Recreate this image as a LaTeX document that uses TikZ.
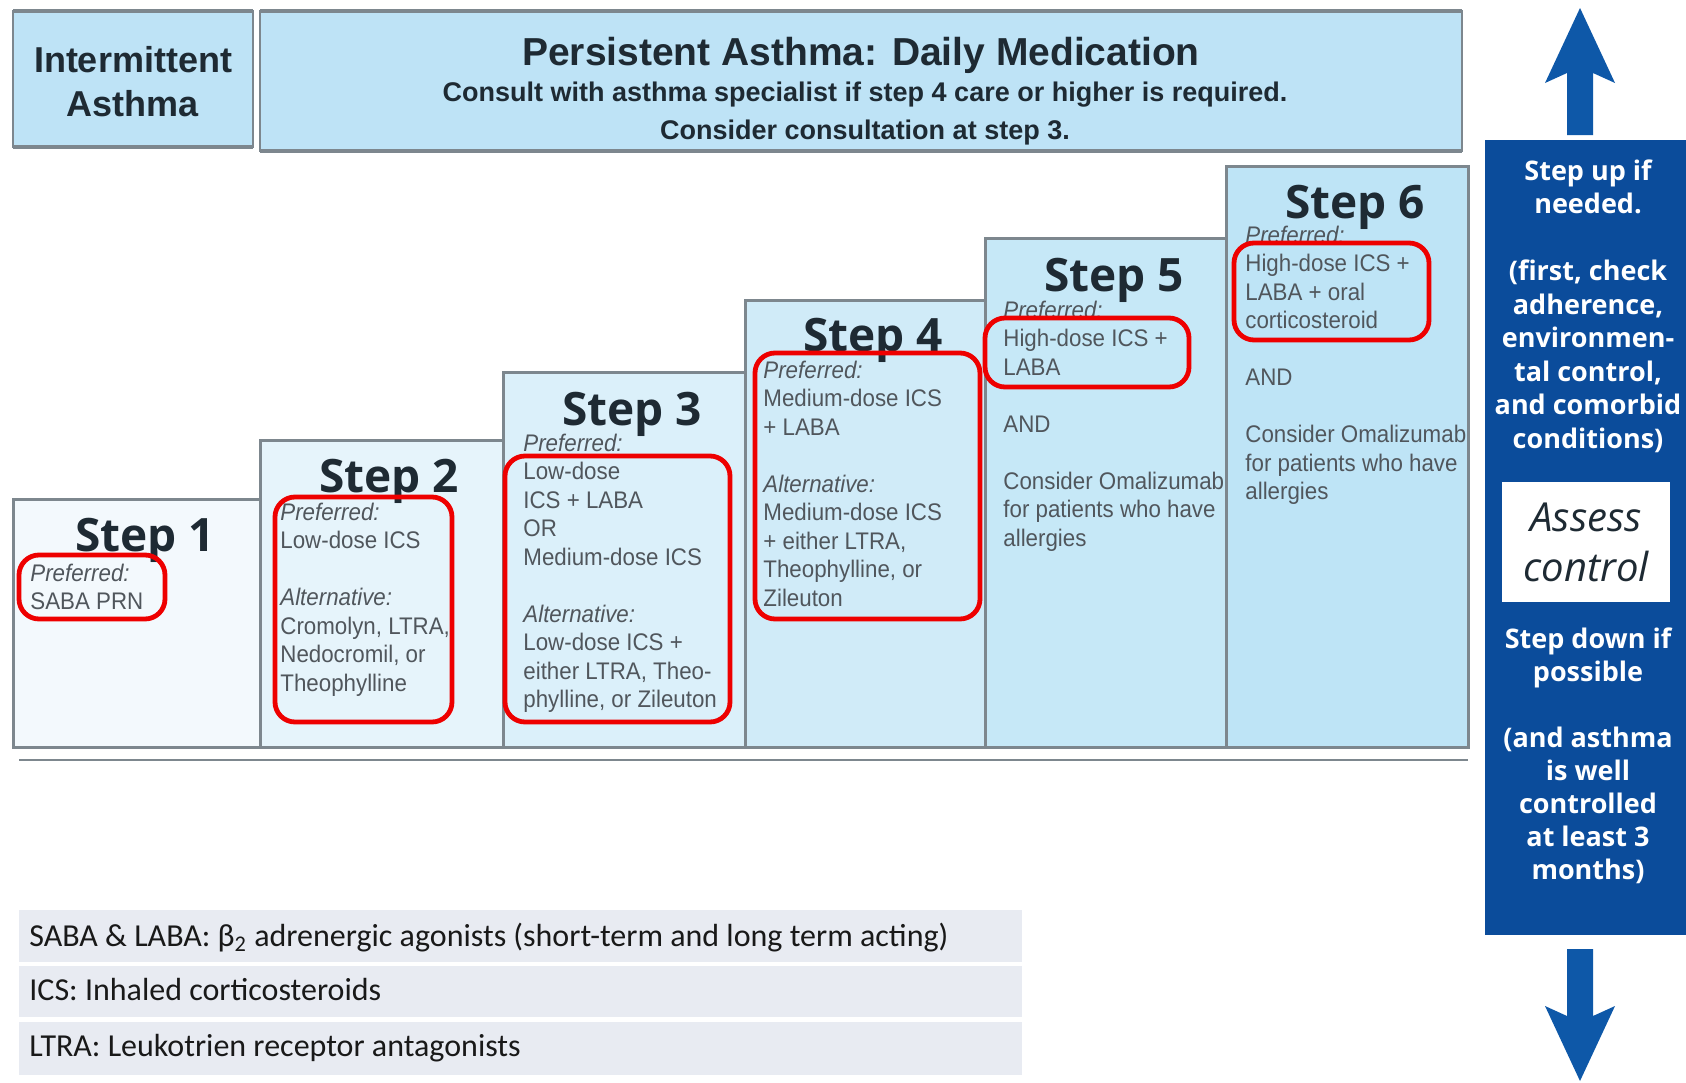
\documentclass[tikz,border=0pt]{standalone}
\usepackage{fontspec}
\setmainfont{Liberation Sans}
\newfontfamily\bodyf[FakeStretch=0.93]{Liberation Sans}
\newfontfamily\headf{Liberation Sans}
\newfontfamily\stepf{Open Sans}
\newfontfamily\legf{Carlito}
\definecolor{hdrfill}{HTML}{BEE3F6}
\definecolor{bordergrey}{HTML}{7D878E}
\definecolor{txtgrey}{HTML}{50565C}
\definecolor{darktxt}{HTML}{1E2A33}
\definecolor{panelblue}{HTML}{0B4C9B}
\definecolor{arrowblue}{HTML}{0E58A8}
\definecolor{legfill}{HTML}{E8EBF2}
\definecolor{redline}{HTML}{EE0000}
\definecolor{sfa}{HTML}{F3F9FD}
\definecolor{sfb}{HTML}{E6F4FB}
\definecolor{sfc}{HTML}{DBF0FA}
\definecolor{sfd}{HTML}{D0EBF8}
\definecolor{sfe}{HTML}{C6E8F7}
\definecolor{sff}{HTML}{BEE4F6}
\tikzset{
  hdrbox/.style={draw=bordergrey, line width=1pt, fill=hdrfill},
  stepbox/.style={draw=bordergrey, line width=1.5pt},
  redbox/.style={draw=redline, line width=2.4pt, rounded corners=10pt},
  body/.style={anchor=base west, inner sep=0pt, text=txtgrey, font=\bodyf\fontsize{12}{14}\selectfont},
  steptitle/.style={anchor=base, inner sep=0pt, text=darktxt, font=\stepf\bfseries\fontsize{23}{27}\selectfont},
  hdrtxt/.style={anchor=base, inner sep=0pt, text=darktxt, font=\headf\bfseries},
  paneltxt/.style={anchor=base, inner sep=0pt, text=white, font=\stepf\bfseries\fontsize{13.5}{16}\selectfont},
  legtxt/.style={anchor=base west, inner sep=0pt, text=black!90, font=\legf\fontsize{16}{19}\selectfont},
  legrow/.style={fill=legfill, draw=none},
  blue arrow/.style={fill=arrowblue, draw=none}
}
\begin{document}
\begin{tikzpicture}[x=0.5pt,y=-0.5pt]
\useasboundingbox (0,0) rectangle (1686,1082);
\fill[white] (0,0) rectangle (1686,1082);

% header boxes
\path[hdrbox] (13,11) rectangle (253,147);
\draw[bordergrey, line width=2.2pt] (13,11) -- (253,11) (13,147) -- (253,147);
\path[hdrbox] (260,11) rectangle (1462,151);
\draw[bordergrey, line width=2.2pt] (260,11) -- (1462,11) (260,151) -- (1462,151);
\node[hdrtxt, font=\headf\bfseries\fontsize{18}{21}\selectfont] (int1) at (133,72) {Intermittent};
\node[hdrtxt, font=\headf\bfseries\fontsize{18}{21}\selectfont] (int2) at (133,116) {Asthma};
\node[hdrtxt, font=\headf\bfseries\fontsize{19.5}{23}\selectfont] (pt1) at (861,65) {Persistent Asthma: Daily Medication};
\node[hdrtxt, font=\headf\bfseries\fontsize{13.5}{16}\selectfont] (pt2) at (865,101) {Consult with asthma specialist if step 4 care or higher is required.};
\node[hdrtxt, font=\headf\bfseries\fontsize{13.5}{16}\selectfont] (pt3) at (865,139) {Consider consultation at step 3.};

% step boxes
\path[stepbox, fill=sfa] (13,499) rectangle (260,747);
\path[stepbox, fill=sfb] (260,440) rectangle (503,747);
\path[stepbox, fill=sfc] (503,372) rectangle (745,747);
\path[stepbox, fill=sfd] (745,300) rectangle (985,747);
\path[stepbox, fill=sfe] (985,238) rectangle (1226,747);
\path[stepbox, fill=sff] (1226,166) rectangle (1468,747);
\draw[bordergrey, line width=1pt] (19,760) -- (1468,760);

% step titles
\node[steptitle] (st1) at (145,551) {Step 1};
\node[steptitle] (st2) at (389,492) {Step 2};
\node[steptitle] (st3) at (632,425) {Step 3};
\node[steptitle] (st4) at (873,351) {Step 4};
\node[steptitle] (st5) at (1114,291) {Step 5};
\node[steptitle] (st6) at (1355,218) {Step 6};

% step texts
\foreach \t [count=\i from 0] in {{\itshape Preferred:}, SABA PRN}
  \node[body] (ba\i) at (30,581+28.5*\i) {\t};
\foreach \t [count=\i from 0] in {{\itshape Preferred:}, Low-dose ICS, {}, {\itshape Alternative:}, {Cromolyn, LTRA,}, {Nedocromil, or}, Theophylline}
  \node[body] (bb\i) at (280,520+28.5*\i) {\t};
\foreach \t [count=\i from 0] in {{\itshape Preferred:}, Low-dose, ICS + LABA, OR, Medium-dose ICS, {}, {\itshape Alternative:}, Low-dose ICS +, {either LTRA, Theo-}, {phylline, or Zileuton}}
  \node[body] (bc\i) at (523,451+28.5*\i) {\t};
\foreach \t [count=\i from 0] in {{\itshape Preferred:}, Medium-dose ICS, + LABA, {}, {\itshape Alternative:}, Medium-dose ICS, {+ either LTRA,}, {Theophylline, or}, Zileuton}
  \node[body] (bd\i) at (763,378+28.5*\i) {\t};
\foreach \t [count=\i from 0] in {{\itshape Preferred:}, High-dose ICS +, LABA, {}, AND, {}, Consider Omalizumab, for patients who have, allergies}
  \node[body] (be\i) at (1003,318+28.5*\i) {\t};
\foreach \t [count=\i from 0] in {{\itshape Preferred:}, High-dose ICS +, LABA + oral, corticosteroid, {}, AND, {}, Consider Omalizumab, for patients who have, allergies}
  \node[body] (bf\i) at (1245,243+28.5*\i) {\t};

% red highlight boxes
\draw[redbox] (19,555) rectangle (165,619);
\draw[redbox] (275,497) rectangle (452,722);
\draw[redbox] (505,456) rectangle (730,722);
\draw[redbox] (755,353) rectangle (980,619);
\draw[redbox] (985,318) rectangle (1189,387);
\draw[redbox] (1234,243) rectangle (1429,340);

% right panel
\fill[panelblue] (1485,140) rectangle (1686,935);
\fill[blue arrow] (1580,8) -- (1615,83) -- (1593,73) -- (1593,135) -- (1567,135) -- (1567,73) -- (1545,83) -- cycle;
\fill[blue arrow] (1580,1081) -- (1615,1006) -- (1593,1016) -- (1593,949) -- (1567,949) -- (1567,1016) -- (1545,1006) -- cycle;
\foreach \t [count=\i from 0] in {{Step up if}, {needed.}, {}, {(first, check}, {adherence,}, {environmen-}, {tal control,}, {and comorbid}, {conditions)}}
  \node[paneltxt] (pu\i) at (1588,180+33.5*\i) {\t};
\node[fill=white, draw=none, minimum width=84pt, minimum height=60pt, inner sep=0pt] (assess) at (1586,542) {};
\node[anchor=base, inner sep=0pt, text=darktxt, font=\stepf\itshape\fontsize{20}{24}\selectfont] (as1) at (1586,531) {Assess};
\node[anchor=base, inner sep=0pt, text=darktxt, font=\stepf\itshape\fontsize{20}{24}\selectfont] (as2) at (1586,581) {control};
\foreach \t [count=\i from 0] in {{Step down if}, {possible}, {}, {(and asthma}, {is well}, {controlled}, {at least 3}, {months)}}
  \node[paneltxt] (pd\i) at (1588,648+33*\i) {\t};

% legend
\path[legrow] (19,910) rectangle (1022,962);
\path[legrow] (19,966) rectangle (1022,1017);
\path[legrow] (19,1022) rectangle (1022,1075);
\node[legtxt] (lg1) at (29,946) {SABA \& LABA: β\textsubscript{2} adrenergic agonists (short-term and long term acting)};
\node[legtxt] (lg2) at (29,1000) {ICS: Inhaled corticosteroids};
\node[legtxt] (lg3) at (29,1056) {LTRA: Leukotrien receptor antagonists};
\end{tikzpicture}
\end{document}
